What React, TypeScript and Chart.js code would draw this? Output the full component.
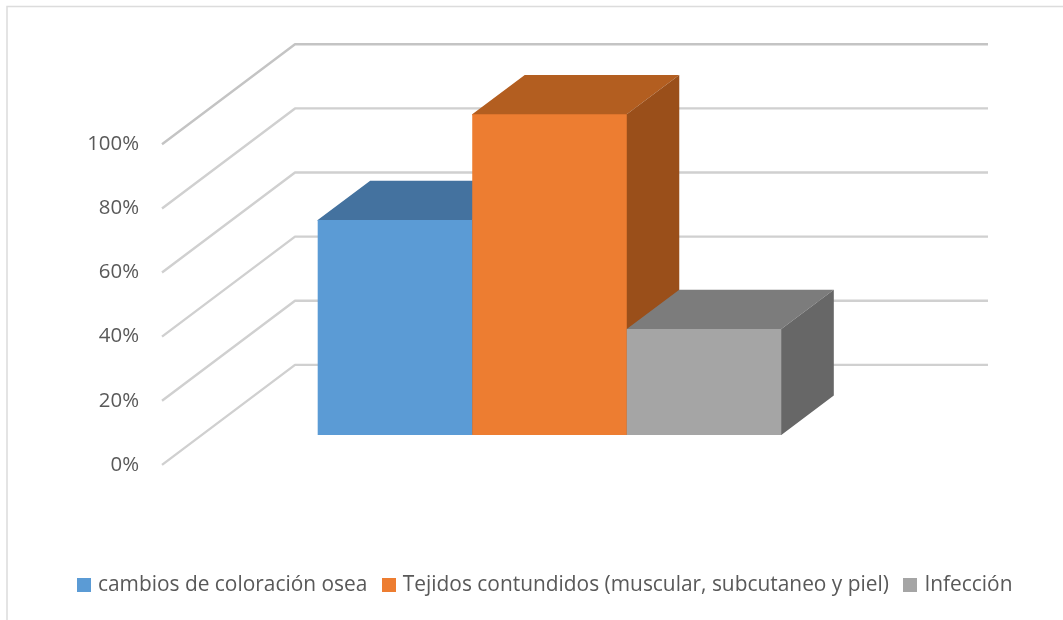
import { useEffect, useRef } from "react";
import { Chart, registerables } from "chart.js";

Chart.register(...registerables);

const categories = [""];
const seriesNames = [
  "cambios de coloración osea",
  "Tejidos contundidos (muscular, subcutaneo y piel)",
  "Infección",
];
const seriesValues = [[67], [100], [33]];
const frontColors = ["#5B9BD5", "#ED7D31", "#A5A5A5"];
const topColors = ["#44729F", "#B35E20", "#7C7C7C"];
const sideColors = ["#3A6288", "#9A4F1A", "#676767"];

const TEXT_COLOR = "#595959";
const GRID_COLOR = "#D0D0D0";
const GRID_TOP_COLOR = "#C4C4C4";
const FONT = '"Open Sans", sans-serif';

// Oblique projection: full floor depth, and where the bars stand on it.
const WALL_DX = 133;
const WALL_DY = -100;
const BAR_DX = 41;
const BAR_DY = -30;
const BAR_DEPTH_X = 52.5;
const BAR_DEPTH_Y = -39.4;

function swatch(color: string) {
  const c = document.createElement("canvas");
  c.width = 14;
  c.height = 14;
  const g = c.getContext("2d")!;
  g.fillStyle = color;
  g.fillRect(0, 0, 14, 14);
  return c;
}

function poly(ctx: CanvasRenderingContext2D, pts: number[][], fill: string) {
  ctx.beginPath();
  pts.forEach(([x, y], i) => (i ? ctx.lineTo(x, y) : ctx.moveTo(x, y)));
  ctx.closePath();
  ctx.fillStyle = fill;
  ctx.fill();
}

// Sheet outline and the L-shaped gridlines running along the floor side and back wall.
const wallPlugin = {
  id: "wall",
  beforeDatasetsDraw(chart: any) {
    const { ctx, scales, chartArea } = chart;
    ctx.save();
    ctx.strokeStyle = "#DCDCDC";
    ctx.lineWidth = 1.5;
    ctx.beginPath();
    ctx.moveTo(7, 620);
    ctx.lineTo(7, 6.5);
    ctx.lineTo(1063, 6.5);
    ctx.stroke();

    ctx.lineWidth = 2.4;
    ctx.lineJoin = "round";
    scales.y.ticks.forEach((t: any) => {
      const y = scales.y.getPixelForValue(t.value);
      ctx.strokeStyle = t.value === scales.y.max ? GRID_TOP_COLOR : GRID_COLOR;
      ctx.beginPath();
      ctx.moveTo(chartArea.left, y);
      ctx.lineTo(chartArea.left + WALL_DX, y + WALL_DY);
      ctx.lineTo(chartArea.right + WALL_DX, y + WALL_DY);
      ctx.stroke();
    });
    ctx.restore();
  },
};

// Bars are painted here left to right, so each one covers its neighbour's side face.
// The top and side faces run a pixel under the front face to keep the seams closed.
const extrudePlugin = {
  id: "extrude",
  beforeDatasetDraw() {
    return false;
  },
  afterDatasetsDraw(chart: any) {
    const { ctx } = chart;
    ctx.save();
    ctx.translate(BAR_DX, BAR_DY);
    seriesNames.forEach((_, i) => {
      chart.getDatasetMeta(i).data.forEach((bar: any) => {
        const { x, y, base, width } = bar.getProps(["x", "y", "base", "width"], true);
        const l = x - width / 2;
        const r = x + width / 2;
        poly(ctx, [[l, y + 1], [l, y], [l + BAR_DEPTH_X, y + BAR_DEPTH_Y], [r + BAR_DEPTH_X, y + BAR_DEPTH_Y], [r, y], [r, y + 1]], topColors[i]);
        poly(ctx, [[r - 1, y], [r, y], [r + BAR_DEPTH_X, y + BAR_DEPTH_Y], [r + BAR_DEPTH_X, base + BAR_DEPTH_Y], [r, base], [r - 1, base]], sideColors[i]);
        bar.draw(ctx);
      });
    });
    ctx.restore();
  },
};

export default function App() {
  const ref = useRef<HTMLCanvasElement>(null);

  useEffect(() => {
    const chart = new Chart(ref.current!, {
      type: "bar",
      data: {
        labels: categories,
        datasets: seriesNames.map((label, i) => ({
          label,
          data: seriesValues[i],
          backgroundColor: frontColors[i],
          categoryPercentage: 0.669,
          barPercentage: 1,
        })),
      },
      options: {
        animation: false,
        responsive: false,
        layout: { padding: { left: 30, right: 0, top: 144.3, bottom: 14.95 } },
        scales: {
          x: {
            display: true,
            grid: { display: false, drawTicks: false },
            border: { display: false },
            ticks: { display: false },
            afterFit(axis: any) {
              axis.height = 91.25;
            },
          },
          y: {
            min: 0,
            max: 100,
            grid: { display: false, drawTicks: false },
            border: { display: false },
            ticks: {
              stepSize: 20,
              padding: 23,
              color: TEXT_COLOR,
              font: { family: FONT, size: 20.4 },
              callback: (v: any) => `${v}%`,
            },
            afterFit(axis: any) {
              axis.width = 132;
            },
          },
          // Empty axis that reserves the room taken by the receding back wall.
          depth: {
            type: "linear",
            position: "right",
            display: true,
            grid: { display: false, drawTicks: false },
            border: { display: false },
            ticks: { display: false },
            afterFit(axis: any) {
              axis.width = 208;
            },
          },
        },
        plugins: {
          tooltip: { enabled: false },
          legend: {
            position: "bottom",
            labels: {
              color: TEXT_COLOR,
              font: { family: FONT, size: 20.9 },
              padding: 18,
              usePointStyle: true,
              pointStyleWidth: 7,
              boxHeight: 14,
              generateLabels: () =>
                seriesNames.map((text, i) => ({
                  text,
                  datasetIndex: i,
                  fontColor: TEXT_COLOR,
                  pointStyle: swatch(frontColors[i]),
                  lineWidth: 0,
                  strokeStyle: "transparent",
                  fillStyle: frontColors[i],
                })) as any,
            },
          },
        },
      },
      plugins: [wallPlugin, extrudePlugin],
    } as any);
    return () => chart.destroy();
  }, []);

  return (
    <div style={{ position: "fixed", left: 0, top: 0, width: 1063, height: 620, background: "#fff" }}>
      <canvas ref={ref} width={1063} height={620} style={{ display: "block" }} />
    </div>
  );
}
